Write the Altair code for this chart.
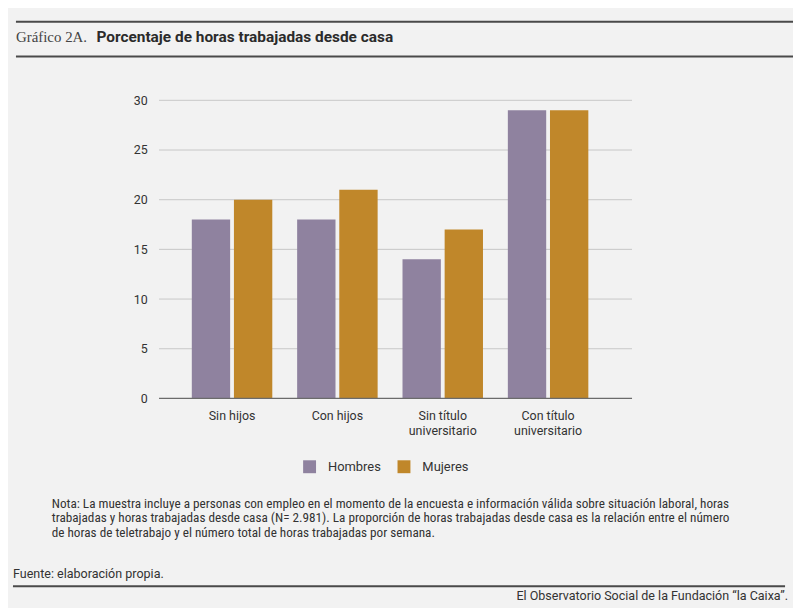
import altair as alt
import pandas as pd

categorias = ["Sin hijos", "Con hijos", "Sin título|universitario", "Con título|universitario"]
hombres = [18, 18, 14, 29]
mujeres = [20, 21, 17, 29]
series = ["Hombres", "Mujeres"]
colores = ["#8f829f", "#c0872a"]
ticks_y = [5, 10, 15, 20, 25, 30]

titulo_num = "Gráfico 2A."
titulo = "Porcentaje de horas trabajadas desde casa"
nota = [
    "Nota: La muestra incluye a personas con empleo en el momento de la encuesta e información válida sobre situación laboral, horas",
    "trabajadas y horas trabajadas desde casa (N= 2.981). La proporción de horas trabajadas desde casa es la relación entre el número",
    "de horas de teletrabajo y el número total de horas trabajadas por semana.",
]
fuente = "Fuente: elaboración propia."
credito = "El Observatorio Social de la Fundación “la Caixa”."

rows = []
for c, h, m in zip(categorias, hombres, mujeres):
    rows.append({"cat": c, "sexo": "Hombres", "valor": h})
    rows.append({"cat": c, "sexo": "Mujeres", "valor": m})
df = pd.DataFrame(rows)

W, H = 465, 300
FONT = "Roboto"
NARROW = "Roboto Condensed, Liberation Sans Narrow, Roboto"
TXT = "#333333"

yscale = alt.Scale(domain=[0, 30])

bars = alt.Chart(df).mark_bar().encode(
    x=alt.X("cat:N", sort=categorias, title=None,
            scale=alt.Scale(paddingInner=0.236, paddingOuter=0.311),
            axis=alt.Axis(labelAngle=0, domain=False, ticks=False, labelPadding=11,
                          labelExpr="split(datum.label, '|')", labelLineHeight=15,
                          labelFont=FONT, labelFontSize=12.5, labelColor=TXT, grid=False)),
    xOffset=alt.XOffset("sexo:N", sort=series, scale=alt.Scale(paddingInner=0.09)),
    y=alt.Y("valor:Q", scale=yscale, title=None,
            axis=alt.Axis(values=[0] + ticks_y, grid=False, domain=False, ticks=False,
                          labelPadding=12, labelFont=FONT, labelFontSize=12.5, labelColor=TXT)),
    color=alt.Color("sexo:N", sort=series,
                    scale=alt.Scale(domain=series, range=colores),
                    legend=alt.Legend(title=None, orient="none", direction="horizontal",
                                      legendX=145, legendY=362, symbolType="square",
                                      symbolSize=169, symbolStrokeWidth=0, labelFont=FONT,
                                      labelFontSize=13, labelColor=TXT, labelOffset=12,
                                      columnPadding=16, padding=0)),
)

grid = alt.Chart(pd.DataFrame({"v": ticks_y})).mark_rule(color="#c8c8c8", strokeWidth=1).encode(
    y=alt.Y("v:Q", scale=yscale, title=None),
    x=alt.value(0), x2=alt.value(476),
)

domain = alt.Chart(pd.DataFrame({"v": [0]})).mark_rule(color="#6b6b6b", strokeWidth=1.2).encode(
    y=alt.Y("v:Q", scale=yscale, title=None),
    x=alt.value(0), x2=alt.value(476),
)

def rule(x1, x2, y, width=2, color="#4a4a4a"):
    return alt.Chart(pd.DataFrame({"a": [0]})).mark_rule(color=color, strokeWidth=width).encode(
        x=alt.value(x1), x2=alt.value(x2), y=alt.value(y))

def text(t, x, y, font=FONT, size=12, weight="normal", align="left", color=TXT, lh=14):
    return alt.Chart(pd.DataFrame({"t": [t]})).mark_text(
        font=font, fontSize=size, fontWeight=weight, align=align, baseline="alphabetic",
        color=color, lineHeight=lh).encode(x=alt.value(x), y=alt.value(y), text="t:N")

annots = [
    rule(-144, 641, -79),
    rule(-144, 641, -44),
    text(titulo_num, -144, -59, font="Liberation Serif", size=15, color="#444444"),
    text(titulo, -63, -59, font=FONT, size=15.5, weight="bold", color="#2b2b2b"),
    text(nota, -108, 410, font=NARROW, size=13.3, lh=14.5),
    text(fuente, -147, 481, font=FONT, size=12.6),
    rule(-147, 630, 489, width=2),
    text(credito, 633, 503, font=FONT, size=12.6, align="right"),
]

chart = alt.layer(grid, bars, domain, *annots).properties(
    width=W, height=H,
    autosize=alt.AutoSizeParams(type="none"),
    padding={"left": 152, "top": 91, "right": 173, "bottom": 209},
    background="#f2f2f2",
).configure_view(stroke=None)

chart.save("out.html", embed_options={"renderer": "svg", "actions": False})
